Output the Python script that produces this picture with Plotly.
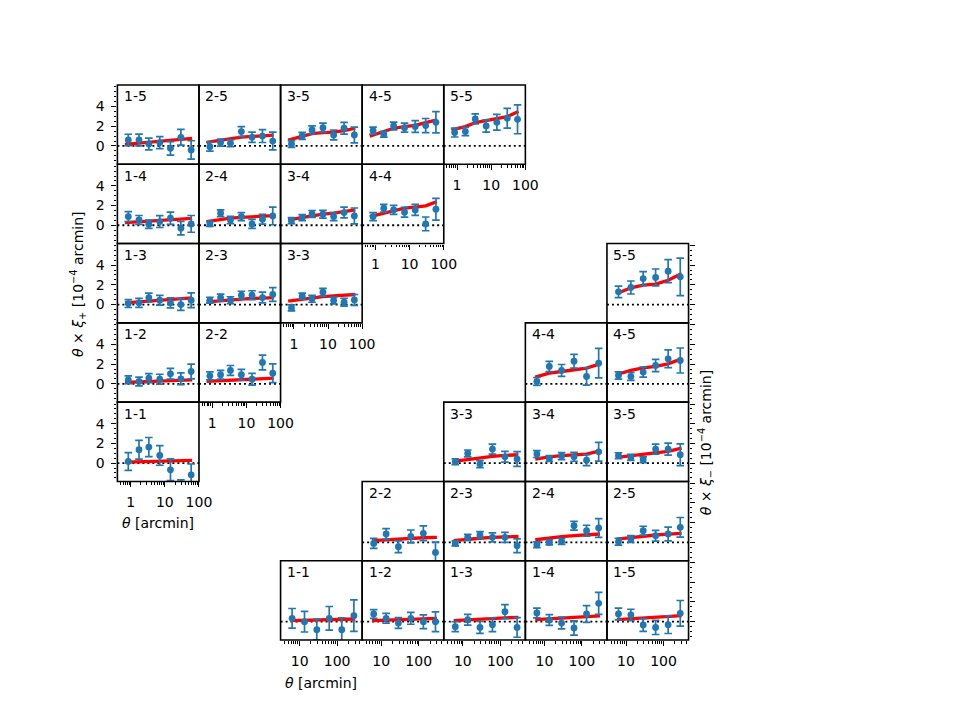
import plotly.graph_objects as go

# ---------------- data ----------------
theta_plus = [0.85, 1.75, 3.4, 7.1, 14.6, 29.5, 59]
theta_plus_model = [0.68, 1.75, 3.4, 7.1, 14.6, 29.5, 63]
theta_minus = [6.3, 13.5, 28.7, 61.6, 133, 280]
theta_minus_model = [5.7, 13.5, 28.7, 61.6, 133, 305]

pairs = ["1-1", "1-2", "1-3", "1-4", "1-5", "2-2", "2-3", "2-4", "2-5",
         "3-3", "3-4", "3-5", "4-4", "4-5", "5-5"]

xip_vals = {
    "1-5": [0.61, 0.61, 0.2, 0.34, -0.24, 0.88, -0.4],
    "2-5": [-0.07, 0.34, 0.27, 1.46, 0.88, 1.0, 0.5],
    "3-5": [0.2, 1.02, 1.63, 1.86, 1.12, 1.8, 1.12],
    "4-5": [1.56, 1.19, 2.03, 1.86, 1.97, 2.07, 2.4],
    "5-5": [1.36, 1.46, 2.75, 2.03, 2.4, 2.81, 2.71],
    "1-4": [0.88, 0.54, 0.1, 0.37, 0.71, -0.3, 0.14],
    "2-4": [0.14, 1.22, 0.54, 0.88, 0.14, 0.61, 0.95],
    "3-4": [0.47, 0.78, 1.15, 1.12, 0.88, 1.29, 0.95],
    "4-4": [0.88, 1.73, 1.56, 1.32, 1.56, 0.14, 1.63],
    "1-3": [0.1, 0.17, 0.71, 0.44, 0.17, 0.0, 0.44],
    "2-3": [0.44, 0.71, 0.44, 0.95, 0.95, 0.71, 1.02],
    "3-3": [-0.34, 0.85, 0.58, 1.25, 0.41, 0.24, 0.47],
    "1-2": [0.41, 0.24, 0.58, 0.47, 1.02, 0.51, 1.25],
    "2-2": [0.81, 0.92, 1.36, 0.92, 0.47, 2.17, 1.08],
    "1-1": [0.17, 1.36, 1.63, 0.78, -0.68, -2.6, -1.19],
}
xip_errs = {
    "1-5": [0.58, 0.6, 0.6, 0.6, 0.68, 0.8, 0.93],
    "2-5": [0.45, 0.35, 0.35, 0.5, 0.52, 0.65, 0.9],
    "3-5": [0.35, 0.35, 0.4, 0.45, 0.5, 0.6, 0.8],
    "4-5": [0.35, 0.3, 0.4, 0.45, 0.6, 0.72, 1.08],
    "5-5": [0.45, 0.42, 0.5, 0.62, 0.8, 1.0, 1.47],
    "1-4": [0.5, 0.45, 0.42, 0.6, 0.62, 0.68, 0.85],
    "2-4": [0.25, 0.35, 0.37, 0.4, 0.45, 0.5, 0.9],
    "3-4": [0.3, 0.3, 0.35, 0.4, 0.4, 0.55, 0.8],
    "4-4": [0.4, 0.4, 0.45, 0.5, 0.55, 0.7, 1.1],
    "1-3": [0.4, 0.45, 0.45, 0.5, 0.5, 0.6, 0.75],
    "2-3": [0.3, 0.35, 0.35, 0.4, 0.45, 0.55, 0.7],
    "3-3": [0.3, 0.3, 0.35, 0.4, 0.35, 0.4, 0.55],
    "1-2": [0.4, 0.45, 0.45, 0.5, 0.55, 0.6, 0.75],
    "2-2": [0.4, 0.45, 0.5, 0.55, 0.6, 0.75, 0.95],
    "1-1": [0.9, 0.95, 0.97, 1.0, 1.1, 0.9, 1.1],
}
xip_model = {
    "1-5": [0.17, 0.3, 0.42, 0.52, 0.6, 0.68, 0.78],
    "2-5": [0.37, 0.6, 0.78, 0.9, 0.97, 1.0, 1.1],
    "3-5": [0.6, 1.0, 1.25, 1.35, 1.4, 1.55, 1.8],
    "4-5": [1.0, 1.5, 1.8, 1.97, 2.1, 2.37, 2.64],
    "5-5": [1.63, 1.97, 2.37, 2.58, 2.71, 2.98, 3.5],
    "1-4": [0.27, 0.35, 0.42, 0.5, 0.55, 0.6, 0.7],
    "2-4": [0.37, 0.6, 0.72, 0.8, 0.88, 0.93, 0.98],
    "3-4": [0.54, 0.8, 1.0, 1.12, 1.22, 1.35, 1.56],
    "4-4": [0.88, 1.22, 1.5, 1.73, 1.85, 1.97, 2.4],
    "1-3": [0.17, 0.27, 0.36, 0.44, 0.5, 0.56, 0.68],
    "2-3": [0.27, 0.4, 0.5, 0.57, 0.62, 0.66, 0.71],
    "3-3": [0.34, 0.55, 0.7, 0.8, 0.87, 0.93, 1.02],
    "1-2": [0.14, 0.2, 0.25, 0.3, 0.34, 0.37, 0.41],
    "2-2": [0.24, 0.32, 0.38, 0.44, 0.49, 0.53, 0.58],
    "1-1": [0.1, 0.14, 0.17, 0.2, 0.22, 0.24, 0.27],
}

xim_vals = {
    "5-5": [1.29, 1.73, 2.64, 2.75, 3.39, 2.81],
    "4-4": [0.24, 1.76, 1.36, 2.3, 0.75, 2.1],
    "4-5": [0.85, 0.75, 1.19, 1.86, 2.54, 2.37],
    "3-3": [0.14, 0.98, -0.1, 1.42, 0.64, 0.41],
    "3-4": [0.92, 0.47, 0.71, 0.64, 0.3, 1.15],
    "3-5": [0.75, 0.58, 0.34, 1.42, 1.42, 0.85],
    "2-2": [-0.1, 0.85, -0.44, 0.61, 0.92, -1.02],
    "2-3": [-0.1, 0.51, 0.75, 0.51, 0.51, -0.34],
    "2-4": [-0.24, 0.0, 0.1, 1.69, 1.19, 1.46],
    "2-5": [0.07, 0.34, 1.19, 0.68, 0.85, 1.53],
    "1-1": [0.34, 0.0, -0.81, 0.34, -0.81, 0.61],
    "1-2": [0.78, 0.34, -0.14, 0.34, 0.0, 0.0],
    "1-3": [-0.51, 0.2, -0.58, -0.3, 1.02, -0.58],
    "1-4": [0.88, 0.17, -0.14, -0.64, 0.78, 1.86],
    "1-5": [0.78, 0.68, -0.34, -0.58, -0.3, 0.85],
}
xim_errs = {
    "5-5": [0.58, 0.66, 0.7, 0.86, 1.17, 1.9],
    "4-4": [0.4, 0.52, 0.6, 0.7, 0.88, 1.5],
    "4-5": [0.37, 0.4, 0.5, 0.62, 0.9, 1.27],
    "3-3": [0.3, 0.35, 0.35, 0.5, 0.55, 0.75],
    "3-4": [0.35, 0.3, 0.35, 0.45, 0.55, 0.95],
    "3-5": [0.3, 0.3, 0.3, 0.5, 0.6, 1.1],
    "2-2": [0.5, 0.55, 0.6, 0.65, 0.75, 1.05],
    "2-3": [0.25, 0.3, 0.35, 0.45, 0.5, 0.7],
    "2-4": [0.3, 0.25, 0.3, 0.45, 0.55, 0.95],
    "2-5": [0.35, 0.35, 0.45, 0.55, 0.7, 1.0],
    "1-1": [1.0, 1.05, 1.07, 1.2, 1.2, 1.6],
    "1-2": [0.45, 0.5, 0.55, 0.6, 0.7, 1.0],
    "1-3": [0.5, 0.55, 0.6, 0.7, 0.72, 1.0],
    "1-4": [0.5, 0.55, 0.6, 0.72, 0.85, 1.12],
    "1-5": [0.6, 0.58, 0.65, 0.72, 0.9, 1.3],
}
xim_model = {
    "5-5": [1.12, 1.7, 1.97, 2.07, 2.47, 3.15],
    "4-4": [0.68, 1.08, 1.25, 1.42, 1.6, 2.03],
    "4-5": [0.95, 1.36, 1.63, 1.76, 2.03, 2.54],
    "3-3": [0.17, 0.38, 0.55, 0.68, 0.78, 0.85],
    "3-4": [0.41, 0.64, 0.75, 0.85, 0.92, 1.25],
    "3-5": [0.58, 0.75, 0.92, 1.08, 1.19, 1.53],
    "2-2": [0.17, 0.27, 0.35, 0.42, 0.47, 0.51],
    "2-3": [0.17, 0.32, 0.42, 0.5, 0.56, 0.61],
    "2-4": [0.27, 0.45, 0.58, 0.68, 0.76, 0.85],
    "2-5": [0.34, 0.51, 0.64, 0.75, 0.84, 0.92],
    "1-1": [0.1, 0.14, 0.18, 0.21, 0.24, 0.27],
    "1-2": [0.1, 0.17, 0.23, 0.27, 0.31, 0.34],
    "1-3": [0.1, 0.2, 0.27, 0.33, 0.39, 0.44],
    "1-4": [0.2, 0.28, 0.36, 0.44, 0.51, 0.58],
    "1-5": [0.2, 0.28, 0.36, 0.44, 0.52, 0.61],
}

# ---------------- layout geometry ----------------
W, H = 960, 720
L, R, T, B = 119, 698, 85, 640
cw = (R - L) / 7
rh = (B - T) / 7
YRANGE = [-1.86, 6.19]
XP_RANGE = [-0.39, 2.0]
XM_RANGE = [0.492, 2.668]
BLUE = "#1f77b4"
FONT = "DejaVu Sans"


def domain(col, row):
    x0 = (L + col * cw) / W
    x1 = (L + (col + 1) * cw) / W
    y1 = 1 - (T + row * rh) / H
    y0 = 1 - (T + (row + 1) * rh) / H
    return [x0, x1], [y0, y1]


fig = go.Figure()
layout = {}
shapes = []
annotations = []

base_axis = dict(showline=False, showgrid=False, zeroline=False, ticks="",
                 showticklabels=False,
                 tickfont=dict(family=FONT, size=14, color="black"))

n = 0
for kind in ["plus", "minus"]:
    for p in pairs:
        i, j = int(p[0]), int(p[2])
        n += 1
        xa = "xaxis" if n == 1 else f"xaxis{n}"
        ya = "yaxis" if n == 1 else f"yaxis{n}"
        xr = "x" if n == 1 else f"x{n}"
        yr = "y" if n == 1 else f"y{n}"
        if kind == "plus":
            col, row = i - 1, 5 - j
            th, thm = theta_plus, theta_plus_model
            vals, errs, mod = xip_vals[p], xip_errs[p], xip_model[p]
            xrange_ = XP_RANGE
            show_x = (i == j)
            show_y = (i == 1)
            yside = "left"
        else:
            col, row = j + 1, 7 - i
            th, thm = theta_minus, theta_minus_model
            vals, errs, mod = xim_vals[p], xim_errs[p], xim_model[p]
            xrange_ = XM_RANGE
            show_x = (i == 1)
            show_y = (j == 5)
            yside = "right"
        xd, yd = domain(col, row)
        xax = dict(base_axis, domain=xd, anchor=yr, type="log", range=xrange_)
        yax = dict(base_axis, domain=yd, anchor=xr, range=YRANGE, side=yside)
        if show_x:
            xax.update(ticks="outside", ticklen=5, tickwidth=1.1, tickcolor="black",
                       showticklabels=True, dtick=1, ticklabelstandoff=3,
                       minor=dict(ticks="outside", ticklen=2.8, tickwidth=0.8,
                                  tickcolor="black", dtick="D1", showgrid=False))
        if show_y:
            yax.update(ticks="outside", ticklen=5, tickwidth=1.1, tickcolor="black",
                       tickvals=[0, 2, 4, 6],
                       minor=dict(ticks="outside", ticklen=2.8, tickwidth=0.8,
                                  tickcolor="black", dtick=0.5, showgrid=False))
            if kind == "plus":
                yax.update(showticklabels=True, tickvals=[0, 2, 4],
                           ticktext=["0", "2", "4"], ticklabelstandoff=4)
        layout[xa] = xax
        layout[ya] = yax

        fig.add_trace(go.Scatter(x=thm, y=mod, mode="lines", xaxis=xr, yaxis=yr,
                                 line=dict(color="red", width=3.3), showlegend=False,
                                 hoverinfo="skip"))
        fig.add_trace(go.Scatter(x=th, y=vals, mode="markers", xaxis=xr, yaxis=yr,
                                 marker=dict(color=BLUE, size=6.8),
                                 error_y=dict(type="data", array=errs, visible=True,
                                              color=BLUE, thickness=1.7, width=3.8),
                                 showlegend=False))
        shapes.append(dict(type="line", xref=f"{xr} domain", yref=yr,
                           x0=0, x1=1, y0=0, y1=0, layer="below",
                           line=dict(color="black", width=1.8, dash="2px,3px")))
        shapes.append(dict(type="rect", xref=f"{xr} domain", yref=f"{yr} domain",
                           x0=0, x1=1, y0=0, y1=1, layer="above",
                           line=dict(color="black", width=1.6)))
        annotations.append(dict(text=p, xref=f"{xr} domain", yref=f"{yr} domain",
                                x=0.055, y=0.855, xanchor="left", yanchor="middle",
                                showarrow=False,
                                font=dict(family=FONT, size=14, color="black")))

title_font = dict(family=FONT, size=14, color="black")
annotations += [
    dict(text="<i>θ</i> × <i>ξ</i><sub>+</sub> [10<sup>−4</sup> arcmin]",
         xref="paper", yref="paper", x=79 / W, y=1 - 284 / H, textangle=-90,
         showarrow=False, xanchor="center", yanchor="middle", font=title_font),
    dict(text="<i>θ</i> × <i>ξ</i><sub>−</sub> [10<sup>−4</sup> arcmin]",
         xref="paper", yref="paper", x=716 / W, y=1 - 443 / H, textangle=-90,
         showarrow=False, xanchor="center", yanchor="middle", font=title_font),
    dict(text="<i>θ</i> [arcmin]", xref="paper", yref="paper",
         x=160 / W, y=1 - 523 / H, showarrow=False,
         xanchor="center", yanchor="middle", font=title_font),
    dict(text="<i>θ</i> [arcmin]", xref="paper", yref="paper",
         x=325 / W, y=1 - 683 / H, showarrow=False,
         xanchor="center", yanchor="middle", font=title_font),
]

fig.update_layout(**layout)
fig.update_layout(width=W, height=H, autosize=False,
                  margin=dict(l=0, r=0, t=0, b=0, pad=0),
                  paper_bgcolor="white", plot_bgcolor="white",
                  shapes=shapes, annotations=annotations, showlegend=False,
                  font=dict(family=FONT, size=14, color="black"))

fig.write_html("out.html", config={"responsive": False})
